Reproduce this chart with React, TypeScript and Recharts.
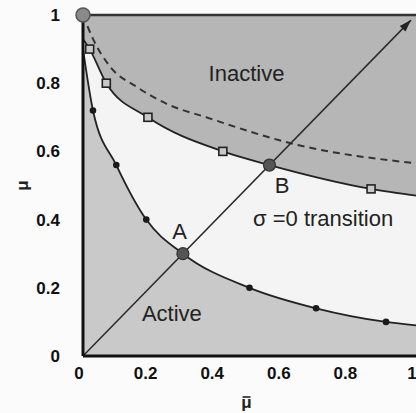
import {
  Area,
  ComposedChart,
  Label,
  Line,
  ReferenceDot,
  ReferenceLine,
  Scatter,
  XAxis,
  YAxis,
} from "recharts"

const axisTicks = [0, 0.2, 0.4, 0.6, 0.8, 1]

// upper boundary of the active/inactive gap (open squares)
const upperSquares = [
  { x: 0.02, y: 0.9 },
  { x: 0.07, y: 0.8 },
  { x: 0.195, y: 0.7 },
  { x: 0.42, y: 0.6 },
  { x: 0.865, y: 0.49 },
]

// lower boundary (filled dots)
const lowerDots = [
  { x: 0.03, y: 0.72 },
  { x: 0.1, y: 0.56 },
  { x: 0.19, y: 0.4 },
  { x: 0.5, y: 0.2 },
  { x: 0.7, y: 0.14 },
  { x: 0.91, y: 0.1 },
]

// where the diagonal crosses the two boundaries
const crossings = [
  { x: 0.3, y: 0.3, name: "A" },
  { x: 0.56, y: 0.56, name: "B" },
]

const cornerPoint = [{ x: 0, y: 1 }]

const upperCurve = [
  { x: 0, y: 0.93 },
  ...upperSquares.slice(0, 4),
  { x: 0.56, y: 0.56 },
  upperSquares[4],
  { x: 1, y: 0.47 },
]

const lowerCurve = [
  { x: 0, y: 0.9 },
  ...lowerDots.slice(0, 3),
  { x: 0.3, y: 0.3 },
  ...lowerDots.slice(3),
  { x: 1, y: 0.09 },
]

const dashedCurve = [
  { x: 0, y: 1 },
  { x: 0.03, y: 0.93 },
  { x: 0.08, y: 0.85 },
  { x: 0.16, y: 0.79 },
  { x: 0.25, y: 0.74 },
  { x: 0.37, y: 0.7 },
  { x: 0.64, y: 0.62 },
  { x: 1, y: 0.565 },
]

const topEdge = [
  { x: 0, y: 1 },
  { x: 1, y: 1 },
]

const diagonal = [
  { x: 0, y: 0 },
  { x: 0.985, y: 0.985 },
]

const regionLabels = [
  { x: 0.491, y: 0.828, text: "Inactive" },
  { x: 0.721, y: 0.403, text: "σ =0 transition" },
  { x: 0.267, y: 0.126, text: "Active" },
  { x: 0.29, y: 0.367, text: "A" },
  { x: 0.598, y: 0.501, text: "B" },
]

const W = 440
const H = 413
const M = { top: 15, right: 24, bottom: 0, left: 0 }
const Y_AXIS_W = 83
const X_AXIS_H = 57
const PLOT_W = W - M.left - M.right - Y_AXIS_W
const PLOT_H = H - M.top - M.bottom - X_AXIS_H

const font = "'Liberation Sans', Arial, Helvetica, sans-serif"
const tickStyle = { fontFamily: font, fontWeight: 700, fontSize: 17, fill: "#111" }

function ArrowDot(props: any) {
  const { cx, cy, index } = props
  if (index !== diagonal.length - 1) return <g key={`d${index}`} />
  const len = Math.hypot(PLOT_W, PLOT_H)
  const ux = PLOT_W / len
  const uy = -PLOT_H / len
  const bx = cx - ux * 12
  const by = cy - uy * 12
  const pts = [
    [cx, cy],
    [bx - uy * 4, by + ux * 4],
    [bx + uy * 4, by - ux * 4],
  ]
  return <polygon key={`d${index}`} points={pts.map((p) => p.join(",")).join(" ")} fill="#222" />
}

function SquareMark(props: any) {
  const { cx, cy } = props
  return <rect x={cx - 4} y={cy - 4} width={8} height={8} fill="#c8c8c8" stroke="#222" strokeWidth={1.6} />
}

function DotMark(props: any) {
  const { cx, cy } = props
  return <circle cx={cx} cy={cy} r={3.3} fill="#1a1a1a" />
}

function CrossMark(props: any) {
  const { cx, cy } = props
  return <circle cx={cx} cy={cy} r={6} fill="#555" stroke="#333" strokeWidth={1.2} />
}

function CornerMark(props: any) {
  const { cx, cy } = props
  return <circle cx={cx} cy={cy} r={7} fill="#8a8a8a" stroke="#555" strokeWidth={1.5} />
}

// μ with a bar drawn over it
function MuBarLabel({ viewBox }: any) {
  const x = viewBox.x + viewBox.width / 2 - 3
  const y = viewBox.y + 52
  return (
    <g>
      <text x={x} y={y} textAnchor="middle" fontFamily={font} fontWeight={700} fontSize={17} fill="#222">
        μ
      </text>
      <line x1={x - 4} x2={x + 4} y1={y - 11} y2={y - 11} stroke="#222" strokeWidth={1.6} />
    </g>
  )
}

function MuLabel({ viewBox }: any) {
  const x = viewBox.x + 22
  const y = viewBox.y + viewBox.height / 2
  return (
    <text
      x={x}
      y={y}
      transform={`rotate(-90 ${x} ${y})`}
      textAnchor="middle"
      dominantBaseline="central"
      fontFamily={font}
      fontWeight={700}
      fontSize={17}
      fill="#222"
    >
      μ
    </text>
  )
}

export default function App() {
  return (
    <div
      style={{
        position: "fixed",
        left: 0,
        top: 0,
        width: 416,
        height: 413,
        overflow: "hidden",
        background: "#fbfbfb",
      }}
    >
      <ComposedChart width={W} height={H} margin={M}>
        <XAxis
          type="number"
          dataKey="x"
          domain={[0, 1]}
          ticks={axisTicks}
          height={X_AXIS_H}
          tick={tickStyle}
          tickLine={false}
          tickSize={0}
          tickMargin={11}
          dx={-4}
          axisLine={{ stroke: "#111", strokeWidth: 3 }}
        >
          <Label content={MuBarLabel} />
        </XAxis>
        <YAxis
          type="number"
          dataKey="y"
          domain={[0, 1]}
          ticks={axisTicks}
          width={Y_AXIS_W}
          tick={tickStyle}
          tickLine={false}
          tickSize={0}
          tickMargin={23}
          axisLine={{ stroke: "#111", strokeWidth: 3 }}
        >
          <Label content={MuLabel} />
        </YAxis>

        {/* shaded bands: inactive on top, gap in white, active below */}
        <Area
          data={topEdge}
          dataKey="y"
          type="linear"
          fill="#b6b6b6"
          fillOpacity={1}
          stroke="none"
          isAnimationActive={false}
        />
        <Area
          data={upperCurve}
          dataKey="y"
          type="monotone"
          fill="#f4f4f4"
          fillOpacity={1}
          stroke="#222"
          strokeWidth={1.8}
          isAnimationActive={false}
        />
        <Area
          data={lowerCurve}
          dataKey="y"
          type="monotone"
          fill="#c9c9c9"
          fillOpacity={1}
          stroke="#222"
          strokeWidth={1.8}
          isAnimationActive={false}
        />

        <ReferenceLine y={1} stroke="#333" strokeWidth={2.5} />

        <Line
          data={dashedCurve}
          dataKey="y"
          type="monotone"
          stroke="#333"
          strokeWidth={2}
          strokeDasharray="7 5"
          dot={false}
          isAnimationActive={false}
        />
        <Line
          data={diagonal}
          dataKey="y"
          type="linear"
          stroke="#2a2a2a"
          strokeWidth={1.5}
          dot={ArrowDot}
          activeDot={false}
          isAnimationActive={false}
        />

        <Scatter data={upperSquares} dataKey="y" shape={SquareMark} isAnimationActive={false} />
        <Scatter data={lowerDots} dataKey="y" shape={DotMark} isAnimationActive={false} />
        <Scatter data={crossings} dataKey="y" shape={CrossMark} isAnimationActive={false} />
        <Scatter data={cornerPoint} dataKey="y" shape={CornerMark} isAnimationActive={false} />

        {regionLabels.map((l) => (
          <ReferenceDot
            key={l.text}
            x={l.x}
            y={l.y}
            r={0}
            fill="none"
            stroke="none"
            label={{
              value: l.text,
              position: "center",
              fontFamily: font,
              fontSize: 22,
              fill: "#222",
            }}
          />
        ))}
      </ComposedChart>
    </div>
  )
}
